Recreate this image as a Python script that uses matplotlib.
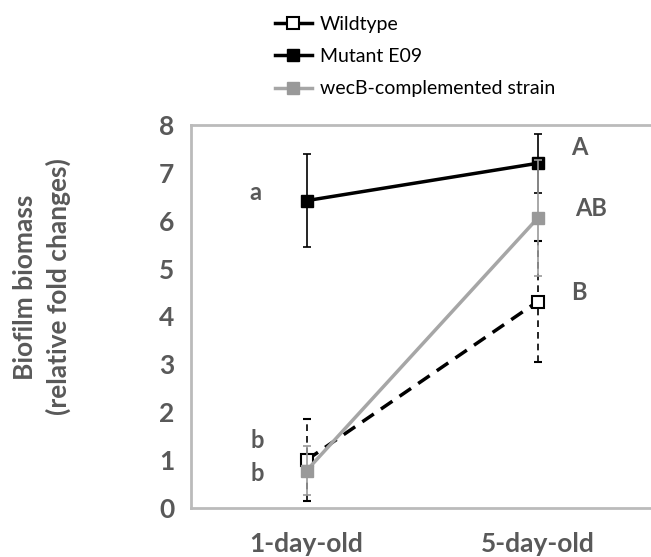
import matplotlib.pyplot as plt
from matplotlib.lines import Line2D

plt.rcParams['font.family'] = ['Lato', 'DejaVu Sans']

# Data
categories = ["1-day-old", "5-day-old"]
wildtype = [1.00, 4.31]
wildtype_err = [0.85, 1.27]
mutant = [6.42, 7.20]
mutant_err = [0.97, 0.61]
wecb = [0.78, 6.05]
wecb_err = [0.51, 1.21]

# significance letters: (x, y, text)
letters = [(0.78, 6.58, "a"), (0.785, 1.42, "b"), (0.785, 0.73, "b"),
           (2.18, 7.52, "A"), (2.23, 6.26, "AB"), (2.18, 4.51, "B")]

grey_txt = '#595959'
grey_line = '#A6A6A6'
grey_mark = '#999999'
frame = '#BBBBBB'

fig = plt.figure(figsize=(6.51, 5.57), dpi=100)
ax = fig.add_axes([191 / 651, 1 - 508 / 557, 462 / 651, 383 / 557])
x = [1, 2]

# Mutant E09
ax.errorbar(x, mutant, yerr=mutant_err, color='black', lw=2.5,
            marker='s', ms=9, mfc='black', mec='black',
            ecolor='black', elinewidth=1.2, capsize=3, capthick=1.2, zorder=3)

# Wildtype
eb = ax.errorbar(x, wildtype, yerr=wildtype_err, color='black', lw=2.5, ls=(0, (4, 2.5)),
                 marker='s', ms=9, mfc='white', mec='black', mew=1.5,
                 ecolor='black', elinewidth=1.2, capsize=3, capthick=1.2, zorder=4)
eb[2][0].set_linestyle((0, (4, 3)))

# wecB-complemented
ax.errorbar(x, wecb, yerr=wecb_err, color=grey_line, lw=2.5,
            marker='s', ms=9, mfc=grey_mark, mec=grey_mark,
            ecolor=grey_mark, elinewidth=1.2, capsize=3, capthick=1.2, zorder=5)

for lx, ly, t in letters:
    ax.text(lx, ly, t, ha='center', va='center', fontsize=17, fontweight='bold',
            color=grey_txt)

ax.set_xlim(0.5, 2.5)
ax.set_ylim(0, 8)
ax.set_xticks(x)
ax.set_xticklabels(categories)
ax.set_yticks(range(0, 9))
ax.tick_params(length=0, labelsize=19, labelcolor=grey_txt, pad=12)
ax.tick_params(axis='x', pad=17)
for lab in ax.get_xticklabels() + ax.get_yticklabels():
    lab.set_fontweight('bold')
for s in ax.spines.values():
    s.set_color(frame)
    s.set_linewidth(2)

fig.text(42 / 651, 1 - 287 / 557, "Biofilm biomass\n(relative fold changes)", rotation=90,
         ha='center', va='center', fontsize=19, fontweight='bold', color=grey_txt,
         linespacing=1.45)

handles = [
    Line2D([0], [0], color='black', lw=2.5, marker='s', ms=9, mfc='white', mec='black', mew=1.5),
    Line2D([0], [0], color='black', lw=2.5, marker='s', ms=9, mfc='black'),
    Line2D([0], [0], color=grey_line, lw=2.5, marker='s', ms=9, mfc=grey_mark, mec=grey_mark),
]
fig.legend(handles, ["Wildtype", "Mutant E09", "wecB-complemented strain"],
           loc='upper left', bbox_to_anchor=(275 / 651, 1 - 16 / 557), frameon=False,
           fontsize=14, handlelength=1.9, handletextpad=0.4, labelspacing=0.78,
           borderaxespad=0, borderpad=0)

fig.savefig("out.png", dpi=100)
